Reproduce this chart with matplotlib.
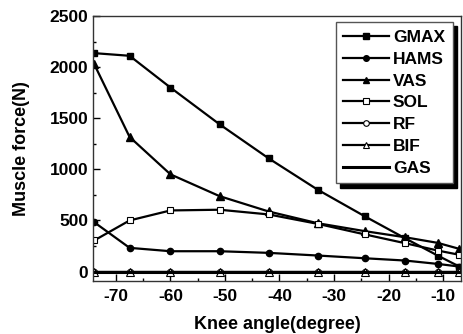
import matplotlib
matplotlib.use("Agg")
import matplotlib.pyplot as plt
from matplotlib.ticker import MultipleLocator

plt.rcParams['font.family'] = ['Liberation Sans', 'DejaVu Sans']
plt.rcParams['font.weight'] = 'bold'
plt.rcParams['axes.unicode_minus'] = False

angles = [-74, -67.5, -60, -51, -42, -33, -24.3, -17, -11, -7]
gmax = [2137, 2111, 1800, 1441, 1108, 801, 539, 327, 157, 49]
hams = [483, 232, 199, 199, 183, 157, 130, 108, 75, 49]
vas = [2030, 1317, 951, 738, 588, 473, 395, 336, 281, 222]
sol = [304, 500, 598, 605, 559, 467, 363, 278, 206, 164]
rf = [0, 0, 0, 0, 0, 0, 0, 0, 0, 0]
bif = [0, 0, 0, 0, 0, 0, 0, 0, 0, 0]
gas = [0, 0, 0, 0, 0, 0, 0, 0, 0, 0]

xticks = [-70, -60, -50, -40, -30, -20, -10]
yticks = [0, 500, 1000, 1500, 2000, 2500]

fig = plt.figure(figsize=(4.63, 3.34), dpi=100)
ax = fig.add_axes([0.201, 0.160, 0.7947, 0.792])

lw = 1.6
ms = 4.5
ax.plot(angles, gmax, '-', color='k', lw=lw, marker='s', ms=ms, mfc='k', label='GMAX')
ax.plot(angles, hams, '-', color='k', lw=lw, marker='o', ms=ms, mfc='k', label='HAMS')
ax.plot(angles, vas, '-', color='k', lw=lw, marker='^', ms=ms + 1, mfc='k', label='VAS')
ax.plot(angles, sol, '-', color='k', lw=lw, marker='s', ms=ms, mfc='white', mew=0.8, label='SOL')
ax.plot(angles, rf, '-', color='k', lw=lw, marker='o', ms=ms, mfc='white', mew=0.8, label='RF')
ax.plot(angles, bif, '-', color='k', lw=lw, marker='^', ms=ms + 1, mfc='white', mew=0.8, label='BIF')
ax.plot(angles, gas, '-', color='k', lw=2.2, label='GAS')

ax.set_xlim(-74.2, -6.7)
ax.set_ylim(-88, 2500)
ax.set_xticks(xticks)
ax.set_yticks(yticks)
ax.xaxis.set_minor_locator(MultipleLocator(5))
ax.yaxis.set_minor_locator(MultipleLocator(250))
ax.tick_params(which='both', direction='in', labelsize=12.5, width=1)
ax.tick_params(which='major', length=5)
ax.tick_params(which='minor', length=2.5)
for lab in ax.get_xticklabels() + ax.get_yticklabels():
    lab.set_fontweight('bold')
ax.tick_params(axis='x', pad=6)
for s in ax.spines.values():
    s.set_linewidth(1.0)
    s.set_color('#333333')

ax.set_xlabel('Knee angle(degree)', fontsize=13, fontweight='bold', labelpad=9)
ax.set_ylabel('Muscle force(N)', fontsize=13, fontweight='bold', labelpad=14)

leg = ax.legend(loc='upper right', bbox_to_anchor=(0.978, 0.977), borderaxespad=0,
                fancybox=False, frameon=True, handlelength=2.6, handletextpad=0.25,
                labelspacing=0.38, borderpad=0.45, markerscale=0.9,
                prop={'weight': 'bold', 'size': 12.5},
                shadow={'ox': 3, 'oy': -3, 'facecolor': 'k', 'edgecolor': 'k', 'alpha': 1})
leg.get_frame().set_edgecolor('#555555')
leg.get_frame().set_linewidth(1.0)
leg.get_frame().set_alpha(1)

fig.savefig('out.png', dpi=100)
